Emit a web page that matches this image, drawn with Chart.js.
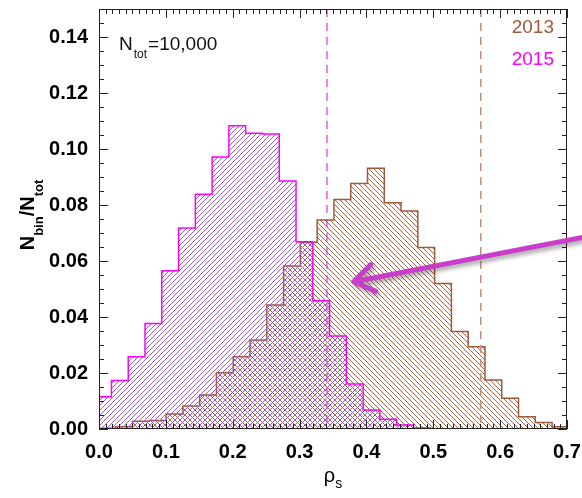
<!DOCTYPE html>
<html>
<head>
<meta charset="utf-8">
<script src="https://cdn.jsdelivr.net/npm/chart.js@4.4.0/dist/chart.umd.min.js"></script>
<style>
    html, body { margin: 0; padding: 0; background: #fff; }
    canvas { display: block; }
</style>
</head>
<body>
<canvas id="rhoChart" width="582" height="498"></canvas>
<script>
// Histogram bin edges (rho_s) and fractions N_bin/N_tot
const edges2013 = [0.0000, 0.0251, 0.0502, 0.0753, 0.1004, 0.1255, 0.1506, 0.1757, 0.2008, 0.2259,
                   0.2510, 0.2761, 0.3012, 0.3263, 0.3514, 0.3765, 0.4016, 0.4267, 0.4518, 0.4769,
                   0.5020, 0.5271, 0.5522, 0.5773, 0.6024, 0.6275, 0.6526, 0.6777, 0.7028];
const frac2013 = [0.0003, 0.0008, 0.0028, 0.0030, 0.0054, 0.0082, 0.0121, 0.0201, 0.0258, 0.0318,
                  0.0443, 0.0582, 0.0667, 0.0746, 0.0820, 0.0877, 0.0931, 0.0808, 0.0779, 0.0648,
                  0.0520, 0.0348, 0.0294, 0.0175, 0.0110, 0.0044, 0.0023, 0.0008];

const edges2015 = [-0.0065, 0.0186, 0.0437, 0.0688, 0.0939, 0.1190, 0.1441, 0.1692, 0.1943, 0.2194,
                   0.2445, 0.2696, 0.2947, 0.3198, 0.3449, 0.3700, 0.3951, 0.4202, 0.4453, 0.4704, 0.4955];
const frac2015 = [0.0115, 0.0173, 0.0258, 0.0377, 0.0565, 0.0718, 0.0838, 0.0971, 0.1083, 0.1056,
                  0.1054, 0.0886, 0.0669, 0.0458, 0.0332, 0.0161, 0.0068, 0.0035, 0.0014, 0.0004];

// dashed marker lines
const marker2013 = 0.571;
const marker2015 = 0.341;

const xTicks = [0.0, 0.1, 0.2, 0.3, 0.4, 0.5, 0.6, 0.7];
const yTicks = [0.00, 0.02, 0.04, 0.06, 0.08, 0.10, 0.12, 0.14];
const seriesNames = ['2013', '2015'];
const nTotLabel = '=10,000';

const brown = 'rgb(160, 88, 58)';
const brownHatch = 'rgb(168, 102, 70)';
const magenta = '#ff00ff';
const purpleHatch = 'rgb(165, 85, 228)';
const fontFamily = "'Liberation Sans', Arial, Helvetica, sans-serif";

const canvas = document.getElementById('rhoChart');
const ctx = canvas.getContext('2d');

// diagonal hatch pattern, dir 1 = "/" and -1 = "\"
function makeHatch(color, dir) {
    const s = 5;
    const tile = document.createElement('canvas');
    tile.width = s;
    tile.height = s;
    const g = tile.getContext('2d');
    g.strokeStyle = color;
    g.lineWidth = 1;
    g.beginPath();
    if (dir > 0) {
        g.moveTo(0, s); g.lineTo(s, 0);
        g.moveTo(-1, 1); g.lineTo(1, -1);
        g.moveTo(s - 1, s + 1); g.lineTo(s + 1, s - 1);
    } else {
        g.moveTo(0, 0); g.lineTo(s, s);
        g.moveTo(-1, s - 1); g.lineTo(1, s + 1);
        g.moveTo(s - 1, -1); g.lineTo(s + 1, 1);
    }
    g.stroke();
    return ctx.createPattern(tile, 'repeat');
}

// outline of a histogram as step points (value i spans edges[i]..edges[i+1])
function stepPoints(edges, vals) {
    const pts = [{ x: edges[0], y: 0 }];
    vals.forEach((v, i) => pts.push({ x: edges[i], y: v }));
    pts.push({ x: edges[edges.length - 1], y: 0 });
    return pts;
}

// frame, inward ticks, dashed lines and annotations
const decorPlugin = {
    id: 'decor',
    afterDatasetsDraw(chart) {
        const c = chart.ctx;
        const a = chart.chartArea;
        const xs = chart.scales.x;

        // dashed vertical lines
        c.save();
        c.setLineDash([8, 6]);
        c.lineWidth = 1.2;
        c.strokeStyle = '#e030e0';
        let px = xs.getPixelForValue(marker2015);
        c.beginPath(); c.moveTo(px, a.top); c.lineTo(px, a.bottom); c.stroke();
        c.lineWidth = 1.6;
        c.strokeStyle = 'rgb(195, 145, 125)';
        px = xs.getPixelForValue(marker2013);
        c.beginPath(); c.moveTo(px, a.top); c.lineTo(px, a.bottom); c.stroke();
        c.restore();
    },
    afterDraw(chart) {
        const c = chart.ctx;
        const a = chart.chartArea;
        const xs = chart.scales.x;
        const ys = chart.scales.y;

        c.save();
        c.strokeStyle = '#222';
        c.lineWidth = 1;
        c.strokeRect(a.left + 0.5, a.top + 0.5, a.right - a.left - 1, a.bottom - a.top - 1);

        c.beginPath();
        // x minor/major ticks (bottom and top)
        for (let i = 0; i <= 70; i++) {
            const p = Math.round(xs.getPixelForValue(i / 100)) + 0.5;
            const len = i % 10 === 0 ? 9 : 5;
            c.moveTo(p, a.bottom); c.lineTo(p, a.bottom - len);
            c.moveTo(p, a.top); c.lineTo(p, a.top + len);
        }
        // y minor/major ticks (left and right)
        for (let i = 0; i <= 30; i++) {
            const p = Math.round(ys.getPixelForValue(i * 0.005)) + 0.5;
            const len = i % 4 === 0 ? 9 : 5;
            c.moveTo(a.left, p); c.lineTo(a.left + len, p);
            c.moveTo(a.right, p); c.lineTo(a.right - len, p);
        }
        c.stroke();

        // legend text
        c.textAlign = 'right';
        c.textBaseline = 'alphabetic';
        c.font = '19px ' + fontFamily;
        c.fillStyle = brown;
        c.fillText(seriesNames[0], 554, 33);
        c.fillStyle = magenta;
        c.fillText(seriesNames[1], 554, 65);

        // N_tot label
        c.textAlign = 'left';
        c.fillStyle = '#111';
        c.font = '19px ' + fontFamily;
        c.fillText('N', 119, 50);
        let w = c.measureText('N').width;
        c.font = '12px ' + fontFamily;
        c.fillText('tot', 119 + w + 1, 58);
        const w2 = c.measureText('tot').width;
        c.font = '19px ' + fontFamily;
        c.fillText(nTotLabel, 119 + w + w2 + 2, 50);

        // y title N_bin/N_tot, rotated
        const big = 'bold 20px ' + fontFamily;
        const small = 'bold 13px ' + fontFamily;
        const parts = [['N', big, 0], ['bin', small, 9], ['/', big, 0], ['N', big, 0], ['tot', small, 9]];
        let total = 0;
        parts.forEach(p => { c.font = p[1]; total += c.measureText(p[0]).width; });
        c.save();
        c.translate(34, 215);
        c.rotate(-Math.PI / 2);
        c.fillStyle = '#000';
        let cx = -total / 2;
        parts.forEach(p => {
            c.font = p[1];
            c.fillText(p[0], cx, p[2]);
            cx += c.measureText(p[0]).width;
        });
        c.restore();

        // x title rho_s
        c.fillStyle = '#000';
        c.font = '20px ' + fontFamily;
        const rw = c.measureText('ρ').width;
        c.font = '14px ' + fontFamily;
        const sw = c.measureText('s').width;
        const x0 = 333 - (rw + sw) / 2;
        c.font = '20px ' + fontFamily;
        c.fillText('ρ', x0, 482);
        c.font = '14px ' + fontFamily;
        c.fillText('s', x0 + rw, 488);

        // pointer arrow with a soft shadow
        const tipX = xs.getPixelForValue(0.381);
        const tipY = ys.getPixelForValue(0.0526);
        const tailX = xs.getPixelForValue(0.735);
        const tailY = ys.getPixelForValue(0.0690);
        const ang = Math.atan2(tipY - tailY, tipX - tailX);
        const head = 24;
        c.shadowColor = 'rgba(0, 0, 0, 0.35)';
        c.shadowBlur = 4;
        c.shadowOffsetX = 2;
        c.shadowOffsetY = 3;
        c.strokeStyle = 'rgb(200, 62, 200)';
        c.lineWidth = 5;
        c.lineCap = 'round';
        c.lineJoin = 'round';
        c.beginPath();
        c.moveTo(tailX, tailY);
        c.lineTo(tipX, tipY);
        c.moveTo(tipX - head * Math.cos(ang - 0.6), tipY - head * Math.sin(ang - 0.6));
        c.lineTo(tipX, tipY);
        c.lineTo(tipX - head * Math.cos(ang + 0.6), tipY - head * Math.sin(ang + 0.6));
        c.stroke();
        c.restore();
    }
};

new Chart(ctx, {
    type: 'line',
    data: {
        datasets: [{
            label: seriesNames[1],
            data: stepPoints(edges2015, frac2015),
            stepped: 'before',
            borderColor: magenta,
            borderWidth: 1.5,
            backgroundColor: makeHatch(purpleHatch, 1),
            fill: 'origin',
            pointRadius: 0
        }, {
            label: seriesNames[0],
            data: stepPoints(edges2013, frac2013),
            stepped: 'before',
            borderColor: brown,
            borderWidth: 1.5,
            backgroundColor: makeHatch(brownHatch, -1),
            fill: 'origin',
            pointRadius: 0
        }]
    },
    options: {
        responsive: false,
        animation: false,
        layout: {
            padding: { top: 9, right: 15, left: 0, bottom: 0 }
        },
        plugins: {
            legend: { display: false },
            tooltip: { enabled: false }
        },
        scales: {
            x: {
                type: 'linear',
                min: 0,
                max: 0.7,
                grid: { display: false, drawTicks: false },
                border: { display: false },
                afterBuildTicks: function(scale) {
                    scale.ticks = xTicks.map(v => ({ value: v }));
                },
                afterFit: function(scale) {
                    scale.height = 69;
                    scale.paddingLeft = 0;
                    scale.paddingRight = 0;
                },
                ticks: {
                    padding: 11,
                    color: '#000',
                    font: { family: fontFamily, size: 20, weight: 'bold' },
                    callback: function(value) {
                        return value.toFixed(1);
                    }
                }
            },
            y: {
                min: 0,
                max: 0.15,
                grid: { display: false, drawTicks: false },
                border: { display: false },
                afterBuildTicks: function(scale) {
                    scale.ticks = yTicks.map(v => ({ value: v }));
                },
                afterFit: function(scale) {
                    scale.width = 99;
                    scale.paddingTop = 0;
                    scale.paddingBottom = 0;
                },
                ticks: {
                    padding: 11,
                    color: '#000',
                    font: { family: fontFamily, size: 20, weight: 'bold' },
                    callback: function(value) {
                        return value.toFixed(2);
                    }
                }
            }
        }
    },
    plugins: [decorPlugin]
});
</script>
</body>
</html>
